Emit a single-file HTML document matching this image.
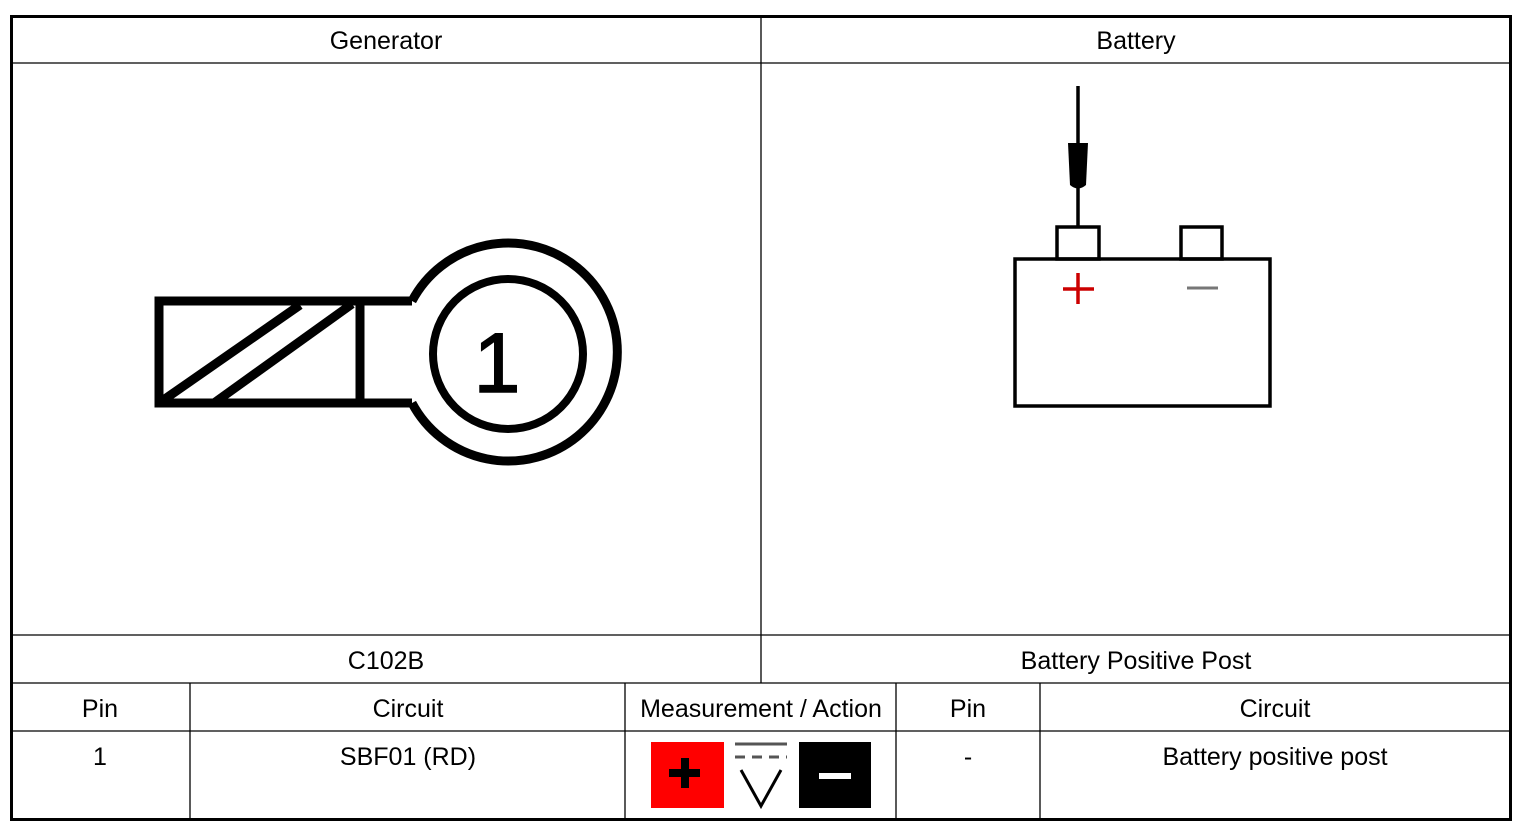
<!DOCTYPE html>
<html><head><meta charset="utf-8"><style>
body{margin:0;background:#fff;}
svg text{font-family:"Liberation Sans",sans-serif;font-size:25px;fill:#000;}
</style></head><body>
<svg width="1526" height="831" viewBox="0 0 1526 831" xmlns="http://www.w3.org/2000/svg">
<rect x="0" y="0" width="1526" height="831" fill="#fff"/>
<g stroke="#000" stroke-width="1.3" fill="none">
<line x1="11" y1="63" x2="1511" y2="63"/>
<line x1="11" y1="635" x2="1511" y2="635"/>
<line x1="11" y1="683" x2="1511" y2="683"/>
<line x1="11" y1="731" x2="1511" y2="731"/>
<line x1="761" y1="16" x2="761" y2="683"/>
<line x1="190" y1="683" x2="190" y2="820"/>
<line x1="625" y1="683" x2="625" y2="820"/>
<line x1="896" y1="683" x2="896" y2="820"/>
<line x1="1040" y1="683" x2="1040" y2="820"/>
</g>
<rect x="11.5" y="16.5" width="1499" height="803" fill="none" stroke="#000" stroke-width="3"/>
<g text-anchor="middle">
<text x="386" y="49">Generator</text>
<text x="1136" y="49">Battery</text>
<text x="386" y="669">C102B</text>
<text x="1136" y="669">Battery Positive Post</text>
<text x="100" y="717">Pin</text>
<text x="408" y="717">Circuit</text>
<text x="761" y="717">Measurement / Action</text>
<text x="968" y="717">Pin</text>
<text x="1275" y="717">Circuit</text>
<text x="100" y="765">1</text>
<text x="408" y="765">SBF01 (RD)</text>
<text x="968" y="765">-</text>
<text x="1275" y="765">Battery positive post</text>
</g>
<!-- connector -->
<g stroke="#000" stroke-width="9" fill="none">
<polyline points="412,301 159,301 159,403 412,403"/>
<line x1="360" y1="301" x2="360" y2="403"/>
<line x1="162" y1="401" x2="300" y2="305"/>
<line x1="214" y1="403" x2="352" y2="304"/>
<path d="M412,301 A109,109 0 1 1 412,403"/>
<circle cx="508" cy="354" r="75" stroke-width="8"/>
</g>
<text x="497" y="392" text-anchor="middle" style="font-size:84px;stroke:#000;stroke-width:1.5">1</text>
<!-- battery -->
<g stroke="#000" stroke-width="3.5" fill="none">
<rect x="1015" y="259" width="255" height="147"/>
<rect x="1057" y="227" width="42" height="32"/>
<rect x="1181" y="227" width="41" height="32"/>
<line x1="1078" y1="86" x2="1078" y2="227"/>
</g>
<path d="M1068,143 L1088,143 L1086,185 Q1078,192 1070,185 Z" fill="#000"/>
<g stroke="#c00" stroke-width="3.5"><line x1="1063" y1="289" x2="1094" y2="289"/><line x1="1078" y1="273" x2="1078" y2="304"/></g>
<line x1="1187" y1="288" x2="1218" y2="288" stroke="#777" stroke-width="3"/>
<!-- measurement icon -->
<rect x="651" y="742" width="73" height="66" fill="#f00"/>
<g stroke="#000" stroke-width="8"><line x1="669" y1="773" x2="700" y2="773"/><line x1="685" y1="758" x2="685" y2="788"/></g>
<line x1="735" y1="744" x2="787" y2="744" stroke="#555" stroke-width="3"/>
<line x1="735" y1="757" x2="787" y2="757" stroke="#555" stroke-width="3" stroke-dasharray="10,7"/>
<polyline points="741,770 761,806 781,770" fill="none" stroke="#000" stroke-width="3"/>
<rect x="799" y="742" width="72" height="66" fill="#000"/>
<line x1="819" y1="776" x2="851" y2="776" stroke="#fff" stroke-width="6"/>
</svg>
</body></html>
